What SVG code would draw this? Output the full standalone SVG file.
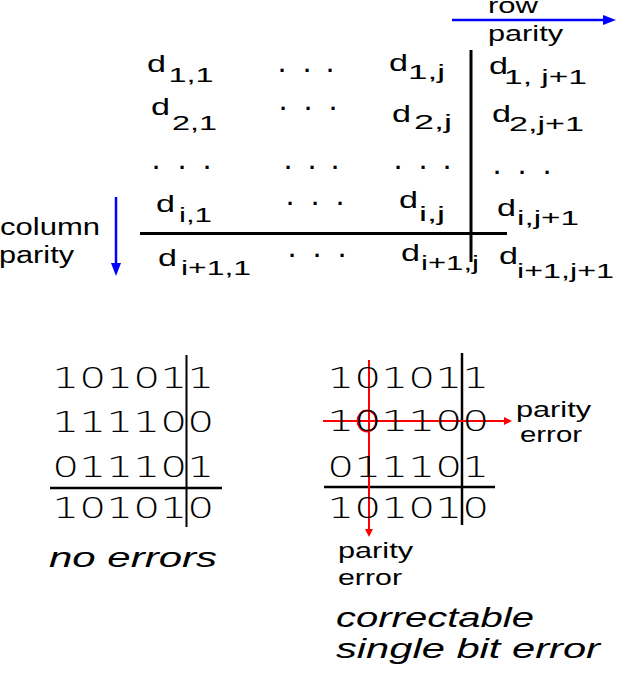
<svg xmlns="http://www.w3.org/2000/svg" width="618" height="677" viewBox="0 0 618 677">
<style>
.t{font-family:"Liberation Sans",Arial,sans-serif;fill:#000}
.d{font-size:24px}
.sub{font-size:20px}
.dots{font-family:"Liberation Sans",Arial,sans-serif;font-size:22px;font-weight:bold;fill:#000}
.lbl{font-size:22px}
.it{font-style:italic;font-size:28px}
.bits{font-family:"DejaVu Sans",Verdana,sans-serif;font-size:29px;font-weight:200;fill:#000}
.rule{stroke:#000;fill:none}
.blue{stroke:#0000FF;stroke-width:2.5;fill:none}
.red{stroke:#FF0000;stroke-width:2;fill:none}
</style>
<defs>
<marker id="ab" markerUnits="userSpaceOnUse" markerWidth="13" markerHeight="10" refX="3" refY="5" orient="auto"><path d="M0,0 L13,5 L0,10 z" fill="#0000FF"/></marker>
<marker id="ar" markerUnits="userSpaceOnUse" markerWidth="8" markerHeight="8" refX="2" refY="4" orient="auto"><path d="M0,0 L8,4 L0,8 z" fill="#FF0000"/></marker>
</defs>
<rect width="618" height="677" fill="#fff"/>

<g id="connectors">
<line class="blue" x1="452" y1="20" x2="606" y2="20" marker-end="url(#ab)"/>
<line class="blue" x1="116" y1="197" x2="116" y2="266" marker-end="url(#ab)"/>
<line class="rule" stroke-width="3" x1="471" y1="50" x2="471" y2="262"/>
<line class="rule" stroke-width="3" x1="140" y1="233.5" x2="507" y2="233.5"/>
<line class="rule" stroke-width="2.5" x1="50" y1="488" x2="222" y2="488"/>
<line class="rule" stroke-width="2" x1="186.5" y1="355" x2="186.5" y2="527"/>
<line class="rule" stroke-width="2.5" x1="324" y1="487" x2="495" y2="487"/>
<line class="rule" stroke-width="2.5" x1="462" y1="353" x2="462" y2="525"/>
<line class="red" x1="369" y1="360" x2="369" y2="531" marker-end="url(#ar)"/>
<line class="red" x1="323" y1="421" x2="506" y2="421" marker-end="url(#ar)"/>
<ellipse class="red" cx="367" cy="421" rx="9.5" ry="10.5"/>
</g>

<g id="row-parity-label">
<text class="t lbl"><tspan x="488" y="13" textLength="50" lengthAdjust="spacingAndGlyphs">row</tspan><tspan x="488" y="41" textLength="75" lengthAdjust="spacingAndGlyphs">parity</tspan></text>
</g>
<g id="column-parity-label">
<text class="t lbl" style="font-size:23px"><tspan x="0" y="235" textLength="100" lengthAdjust="spacingAndGlyphs">column</tspan><tspan x="-1" y="263" textLength="75" lengthAdjust="spacingAndGlyphs">parity</tspan></text>
</g>

<g id="d11"><text class="t"><tspan class="d" x="147" y="72" textLength="19" lengthAdjust="spacingAndGlyphs">d</tspan><tspan class="sub" x="168.5" y="82" textLength="45" lengthAdjust="spacingAndGlyphs">1,1</tspan></text></g>
<g id="d1j"><text class="t"><tspan class="d" x="389" y="71" textLength="19" lengthAdjust="spacingAndGlyphs">d</tspan><tspan class="sub" x="408" y="79" textLength="37" lengthAdjust="spacingAndGlyphs">1,j</tspan></text></g>
<g id="d1j1"><text class="t"><tspan class="d" x="489" y="74" textLength="19" lengthAdjust="spacingAndGlyphs">d</tspan><tspan class="sub" x="504" y="84" textLength="83" lengthAdjust="spacingAndGlyphs">1, j+1</tspan></text></g>
<g id="d21"><text class="t"><tspan class="d" x="151" y="115" textLength="19" lengthAdjust="spacingAndGlyphs">d</tspan><tspan class="sub" x="172" y="130" textLength="45" lengthAdjust="spacingAndGlyphs">2,1</tspan></text></g>
<g id="d2j"><text class="t"><tspan class="d" x="392" y="122" textLength="19" lengthAdjust="spacingAndGlyphs">d</tspan><tspan class="sub" x="414" y="129" textLength="38" lengthAdjust="spacingAndGlyphs">2,j</tspan></text></g>
<g id="d2j1"><text class="t"><tspan class="d" x="492" y="122" textLength="19" lengthAdjust="spacingAndGlyphs">d</tspan><tspan class="sub" x="509" y="131" textLength="75" lengthAdjust="spacingAndGlyphs">2,j+1</tspan></text></g>
<g id="di1"><text class="t"><tspan class="d" x="156" y="212" textLength="19" lengthAdjust="spacingAndGlyphs">d</tspan><tspan class="sub" x="179" y="222" textLength="33" lengthAdjust="spacingAndGlyphs">i,1</tspan></text></g>
<g id="dij"><text class="t"><tspan class="d" x="399" y="208" textLength="19" lengthAdjust="spacingAndGlyphs">d</tspan><tspan class="sub" x="419" y="221" textLength="26" lengthAdjust="spacingAndGlyphs">i,j</tspan></text></g>
<g id="dij1"><text class="t"><tspan class="d" x="497" y="216" textLength="19" lengthAdjust="spacingAndGlyphs">d</tspan><tspan class="sub" x="517" y="225" textLength="62" lengthAdjust="spacingAndGlyphs">i,j+1</tspan></text></g>
<g id="di11"><text class="t"><tspan class="d" x="158" y="266" textLength="19" lengthAdjust="spacingAndGlyphs">d</tspan><tspan class="sub" x="181" y="275" textLength="70" lengthAdjust="spacingAndGlyphs">i+1,1</tspan></text></g>
<g id="di1j"><text class="t"><tspan class="d" x="401" y="261" textLength="19" lengthAdjust="spacingAndGlyphs">d</tspan><tspan class="sub" x="421" y="270" textLength="58" lengthAdjust="spacingAndGlyphs">i+1,j</tspan></text></g>
<g id="di1j1"><text class="t"><tspan class="d" x="499" y="264" textLength="19" lengthAdjust="spacingAndGlyphs">d</tspan><tspan class="sub" x="517" y="278" textLength="97" lengthAdjust="spacingAndGlyphs">i+1,j+1</tspan></text></g>

<g id="ellipses">
<text class="dots" x="279 291 304 316 327" y="71.5">. . .</text>
<text class="dots" x="280 292 305 317 330" y="109.5">. . .</text>
<text class="dots" x="153 166 179 191 204" y="168.5">. . .</text>
<text class="dots" x="285 297 309 320 332" y="168.5">. . .</text>
<text class="dots" x="395 407 420 432 444" y="168.5">. . .</text>
<text class="dots" x="494 506 519 531 544" y="173.5">. . .</text>
<text class="dots" x="287 299 312 324 337" y="204.5">. . .</text>
<text class="dots" x="289 301 314 326 339" y="256.5">. . .</text>
</g>

<g id="matrix-no-errors">
<text class="bits" x="52.3" y="388" textLength="162" lengthAdjust="spacingAndGlyphs">101011</text>
<text class="bits" x="52.3" y="432" textLength="162" lengthAdjust="spacingAndGlyphs">111100</text>
<text class="bits" x="52.3" y="477" textLength="162" lengthAdjust="spacingAndGlyphs">011101</text>
<text class="bits" x="52.3" y="518" textLength="162" lengthAdjust="spacingAndGlyphs">101010</text>
</g>
<g id="caption-no-errors">
<text class="t it" x="49" y="567" textLength="168" lengthAdjust="spacingAndGlyphs">no errors</text>
</g>

<g id="matrix-single-error">
<text class="bits" x="327.3" y="388" textLength="162" lengthAdjust="spacingAndGlyphs">101011</text>
<text class="bits" x="327.3" y="431" textLength="162" lengthAdjust="spacingAndGlyphs">101100</text>
<text class="bits" x="327.3" y="477" textLength="162" lengthAdjust="spacingAndGlyphs">011101</text>
<text class="bits" x="327.3" y="518" textLength="162" lengthAdjust="spacingAndGlyphs">101010</text>
</g>
<g id="row-parity-error">
<text class="t lbl"><tspan x="516" y="417" textLength="75" lengthAdjust="spacingAndGlyphs">parity</tspan><tspan x="520" y="442" textLength="62" lengthAdjust="spacingAndGlyphs">error</tspan></text>
</g>
<g id="column-parity-error">
<text class="t lbl"><tspan x="338" y="558" textLength="75" lengthAdjust="spacingAndGlyphs">parity</tspan><tspan x="338" y="585" textLength="64" lengthAdjust="spacingAndGlyphs">error</tspan></text>
</g>
<g id="caption-single-error">
<text class="t it" style="font-size:27px"><tspan x="336" y="627" textLength="198" lengthAdjust="spacingAndGlyphs">correctable</tspan><tspan x="336" y="658" textLength="264" lengthAdjust="spacingAndGlyphs">single bit error</tspan></text>
</g>
</svg>
